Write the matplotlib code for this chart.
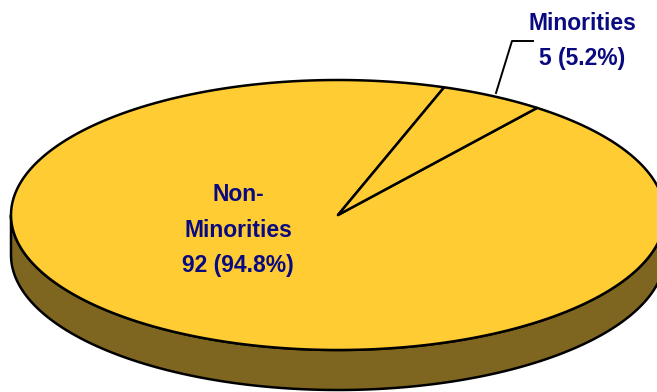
import numpy as np
import matplotlib.pyplot as plt
from matplotlib.patches import Polygon

labels = ['Non-\nMinorities', 'Minorities']
counts = [92, 5]
pcts = ['94.8%', '5.2%']

top_col = '#FFCC33'
side_col = '#7F6620'
txt_col = '#0A0A80'

fig = plt.figure(figsize=(6.57, 3.92), dpi=100)
ax = fig.add_axes([0, 0, 1, 1])
ax.set_xlim(0, 657)
ax.set_ylim(392, 0)
ax.axis('off')

cx, cy = 338, 215
rx, ry = 327, 135
depth = 40

def pt(t):
    t = np.radians(t)
    return cx + rx * np.cos(t), cy - ry * np.sin(t)

# side wall (front half)
t = np.linspace(180, 360, 200)
xs, ys = pt(t)
side = np.concatenate([np.column_stack([xs, ys]),
                       np.column_stack([xs[::-1], ys[::-1] + depth])])
ax.add_patch(Polygon(side, closed=True, fc=side_col, ec='black', lw=1.8, joinstyle='round'))

# top slices, angles from data
total = sum(counts)
start = 52.5
frac = counts[1] / total * 360
angles = [(start + frac, start + 360), (start, start + frac)]
for a0, a1 in angles:
    t = np.linspace(a0, a1, 300)
    xs, ys = pt(t)
    poly = np.vstack([[cx, cy], np.column_stack([xs, ys])])
    ax.add_patch(Polygon(poly, closed=True, fc=top_col, ec='black', lw=1.8, joinstyle='round'))

font = dict(family=['Liberation Sans', 'DejaVu Sans'],
            fontweight='bold', color=txt_col, fontsize=16.5, ha='center', va='center',
            linespacing=1.7)

ax.text(238, 230, f'{labels[0]}\n{counts[0]} ({pcts[0]})', **font)
ax.text(582, 41, f'{labels[1]}\n{counts[1]} ({pcts[1]})', **font)

# leader line for small slice
ax.plot([496, 512, 533], [93, 41, 41], color='black', lw=1.4)

fig.savefig('out.png', dpi=100)
